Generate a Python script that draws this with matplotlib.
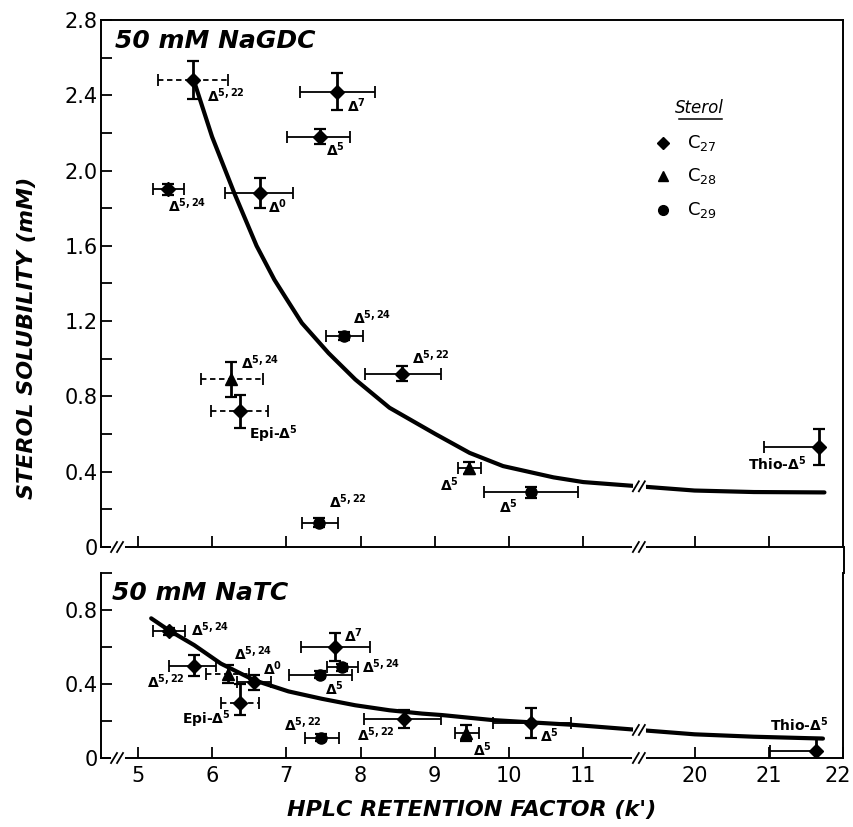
import numpy as np
import matplotlib
matplotlib.use("Agg")
import matplotlib.pyplot as plt
from matplotlib.lines import Line2D
from matplotlib.transforms import IdentityTransform, ScaledTranslation

plt.rcParams['font.family'] = ['DejaVu Sans']
plt.rcParams['mathtext.default'] = 'regular'

# ---------------- data ----------------
# Top panel: 50 mM NaGDC
top_k      = [5.74, 7.69, 7.45, 5.41, 6.64, 7.78, 8.56, 6.26, 6.37, 7.44, 9.46, 10.30, 21.68]
top_k_lo   = [5.27, 7.19, 7.01, 5.20, 6.18, 7.53, 8.06, 5.85, 5.98, 7.21, 9.31, 9.66, 20.93]
top_k_hi   = [6.22, 8.19, 7.86, 5.62, 7.09, 8.04, 9.08, 6.68, 6.76, 7.70, 9.63, 10.93, 21.68]
top_sol    = [2.48, 2.42, 2.18, 1.90, 1.88, 1.12, 0.92, 0.89, 0.72, 0.13, 0.42, 0.29, 0.53]
top_sol_e  = [0.10, 0.10, 0.04, 0.03, 0.08, 0.02, 0.04, 0.095, 0.09, 0.025, 0.03, 0.03, 0.095]
top_sterol = ['C27', 'C27', 'C27', 'C27', 'C27', 'C29', 'C27', 'C28', 'C27', 'C29', 'C28', 'C29', 'C27']
top_names  = ['Δ$^{5,22}$', 'Δ$^{7}$', 'Δ$^{5}$', 'Δ$^{5,24}$', 'Δ$^{0}$', 'Δ$^{5,24}$',
              'Δ$^{5,22}$', 'Δ$^{5,24}$', 'Epi-Δ$^{5}$', 'Δ$^{5,22}$', 'Δ$^{5}$', 'Δ$^{5}$',
              'Thio-Δ$^{5}$']
top_dashed = [True, False, False, False, False, False, False, True, True, False, False, False, False]

top_curve_k = [5.77, 6.00, 6.30, 6.60, 6.84, 7.00, 7.21, 7.57, 7.93, 8.39, 9.01, 9.47, 9.92,
               10.60, 11.00, 20.00, 20.80, 21.75]
top_curve_s = [2.46, 2.18, 1.88, 1.60, 1.42, 1.32, 1.19, 1.03, 0.89, 0.74, 0.60, 0.50, 0.43,
               0.37, 0.345, 0.300, 0.292, 0.290]

# Bottom panel: 50 mM NaTC
bot_k      = [5.42, 5.76, 6.22, 6.57, 6.37, 7.66, 7.45, 7.75, 7.47, 8.59, 9.42, 10.30, 21.64]
bot_k_lo   = [5.20, 5.42, 5.92, 6.33, 6.12, 7.20, 7.03, 7.55, 7.25, 8.05, 9.27, 9.78, 21.02]
bot_k_hi   = [5.64, 6.06, 6.50, 6.80, 6.63, 8.13, 7.88, 7.97, 7.71, 9.09, 9.59, 10.83, 21.64]
bot_sol    = [0.685, 0.50, 0.455, 0.41, 0.30, 0.60, 0.45, 0.49, 0.11, 0.21, 0.135, 0.19, 0.04]
bot_sol_lo = [0.02, 0.055, 0.05, 0.04, 0.065, 0.075, 0.02, 0.02, 0.02, 0.05, 0.045, 0.08, 0.07]
bot_sol_hi = [0.02, 0.055, 0.05, 0.04, 0.10, 0.075, 0.02, 0.02, 0.02, 0.05, 0.045, 0.08, 0.07]
bot_sterol = ['C27', 'C27', 'C28', 'C27', 'C27', 'C27', 'C29', 'C29', 'C29', 'C27', 'C28', 'C27', 'C27']
bot_names  = ['Δ$^{5,24}$', 'Δ$^{5,22}$', 'Δ$^{5,24}$', 'Δ$^{0}$', 'Epi-Δ$^{5}$', 'Δ$^{7}$',
              'Δ$^{5}$', 'Δ$^{5,24}$', 'Δ$^{5,22}$', 'Δ$^{5,22}$', 'Δ$^{5}$', 'Δ$^{5}$',
              'Thio-Δ$^{5}$']
bot_dashed = [False, False, True, False, True, False, False, False, False, False, False, False, False]

bot_curve_k = [5.18, 5.42, 5.76, 6.12, 6.57, 7.03, 7.48, 7.93, 8.39, 8.83, 9.10, 9.78, 10.83,
               11.00, 20.00, 20.80, 21.73]
bot_curve_s = [0.755, 0.69, 0.61, 0.51, 0.42, 0.36, 0.32, 0.285, 0.258, 0.240, 0.232, 0.205,
               0.180, 0.175, 0.128, 0.115, 0.105]

x_ticks = [5, 6, 7, 8, 9, 10, 11, 20, 21, 22]
top_yticks = [0, 0.4, 0.8, 1.2, 1.6, 2.0, 2.4, 2.8]
bot_yticks = [0, 0.4, 0.8]

# label offsets (points) and alignment -- styling only
top_off = [(10, -11, 'left'), (6.5, -10, 'left'), (4.5, -9.5, 'left'), (0, -11.5, 'left'),
           (6, -10, 'left'), (6, 13, 'left'), (7, 11.5, 'left'), (7, 12, 'left'),
           (6.5, -16.5, 'left'), (7, 15, 'left'), (-7, -12, 'right'), (-9.5, -10, 'right'),
           (-9.5, -12, 'right')]
bot_off = [(16, 1, 'left'), (-7, -12, 'right'), (4, 14.5, 'left'), (6, 9.5, 'left'),
           (-6, -12, 'right'), (6.5, 8, 'left'), (3.5, -10, 'left'), (14.5, 0.5, 'left'),
           (0.5, 9.5, 'right'), (-7, -11.5, 'right'), (5, -12, 'left'), (6.5, -9.5, 'left'),
           (8.5, 19, 'right')]

MARK = {'C27': 'D', 'C28': '^', 'C29': 'o'}
MSIZE = {'C27': 7, 'C28': 8, 'C29': 8}

# ---------------- broken x scale ----------------
G = 1.5   # display width of the 11..20 gap (in units)

def fwd(x):
    x = np.asarray(x, dtype=float)
    return np.where(x <= 11, x, np.where(x >= 20, x - 9 + G, 11 + (x - 11) * G / 9.0))

def inv(u):
    u = np.asarray(u, dtype=float)
    return np.where(u <= 11, u, np.where(u >= 11 + G, u + 9 - G, 11 + (u - 11) * 9.0 / G))

W, H = 854, 827
fig = plt.figure(figsize=(W / 100, H / 100), dpi=100)
L, R = 100.7 / W, 843 / W
ax1 = fig.add_axes([L, 1 - 547 / H, R - L, (547 - 20) / H])
ax2 = fig.add_axes([L, 1 - 758 / H, R - L, (758 - 573) / H])

for ax in (ax1, ax2):
    ax.set_xscale('function', functions=(fwd, inv))
    ax.set_xlim(4.5, 22)
    for s in ax.spines.values():
        s.set_linewidth(1.4)
    ax.tick_params(direction='in', length=8, width=1.3, labelsize=15, pad=3)
    ax.tick_params(which='minor', direction='in', length=8, width=1.3)

ax1.set_ylim(0, 2.8)
ax2.set_ylim(0, 1.0)
ax2.spines['top'].set_visible(False)

ax1.set_xticks(x_ticks[:-1])
ax1.set_xticklabels([])
ax1.xaxis.set_minor_locator(matplotlib.ticker.NullLocator())
ax2.set_xticks(x_ticks)
ax2.set_xticklabels([str(t) for t in x_ticks])
ax2.xaxis.set_minor_locator(matplotlib.ticker.NullLocator())
ax2.tick_params(axis='x', pad=6)
last = ax2.get_xticklabels()[-1]
last.set_transform(last.get_transform() + ScaledTranslation(-4 / 72, 0, fig.dpi_scale_trans))

ax1.set_yticks(top_yticks)
ax1.set_yticklabels(['0' if t == 0 else f'{t:.1f}' for t in top_yticks])
ax1.set_yticks(np.arange(0.2, 2.7, 0.4), minor=True)
ax2.set_yticks(bot_yticks)
ax2.set_yticklabels(['0' if t == 0 else f'{t:.1f}' for t in bot_yticks])
ax2.set_yticks([0.2, 0.6, 1.0], minor=True)
for ax in (ax1, ax2):
    ax.tick_params(axis='y', pad=2)


def draw_panel(ax, k, lo, hi, s, elo, ehi, sterol, names, dashed, offs, ck, cs):
    ax.plot(ck, cs, color='black', lw=3.0, solid_capstyle='round', zorder=2)
    for i in range(len(k)):
        xe = [[k[i] - lo[i]], [hi[i] - k[i]]]
        eb = ax.errorbar([k[i]], [s[i]], xerr=xe, fmt='none', ecolor='black',
                         elinewidth=1.3, capsize=4, capthick=1.3, zorder=3)
        if dashed[i]:
            eb[2][0].set_linestyle((0, (3, 2)))
        ax.errorbar([k[i]], [s[i]], yerr=[[elo[i]], [ehi[i]]], fmt='none', ecolor='black',
                    elinewidth=2.0, capsize=4.5, capthick=1.6, zorder=3)
        ax.plot([k[i]], [s[i]], marker=MARK[sterol[i]], ms=MSIZE[sterol[i]], color='black',
                ls='none', zorder=4)
        dx, dy, ha = offs[i]
        ax.annotate(names[i], (k[i], s[i]), xytext=(dx, dy), textcoords='offset points',
                    ha=ha, va='center', fontsize=10, fontweight='bold', zorder=5)


draw_panel(ax1, top_k, top_k_lo, top_k_hi, top_sol, top_sol_e, top_sol_e, top_sterol,
           top_names, top_dashed, top_off, top_curve_k, top_curve_s)
draw_panel(ax2, bot_k, bot_k_lo, bot_k_hi, bot_sol, bot_sol_lo, bot_sol_hi, bot_sterol,
           bot_names, bot_dashed, bot_off, bot_curve_k, bot_curve_s)

# panel titles
ax1.text(0.019, 0.983, '50 mM NaGDC', transform=ax1.transAxes, ha='left', va='top',
         fontsize=18, fontstyle='italic', fontweight='bold')
ax2.text(0.015, 0.955, '50 mM NaTC', transform=ax2.transAxes, ha='left', va='top',
         fontsize=18, fontstyle='italic', fontweight='bold')

# legend
ax1.text(0.807, 0.833, 'Sterol', transform=ax1.transAxes, ha='center', va='center',
         fontsize=12, fontstyle='italic')
ax1.plot([0.779, 0.837], [0.812, 0.812], transform=ax1.transAxes, color='black', lw=1.1)
for j, (cls, yy) in enumerate(zip(['C27', 'C28', 'C29'], [0.767, 0.704, 0.639])):
    ax1.plot([0.7575], [yy], transform=ax1.transAxes, marker=MARK[cls], ms=MSIZE[cls] - 1,
             color='black', ls='none')
    ax1.text(0.79, yy, 'C$_{' + cls[1:] + '}$', transform=ax1.transAxes, ha='left',
             va='center', fontsize=13)

# axis labels
fig.text(0.032, 0.591, 'STEROL SOLUBILITY (mM)', rotation=90, ha='center', va='center',
         fontsize=16, fontstyle='italic', fontweight='bold')
fig.text(0.552, 0.021, "HPLC RETENTION FACTOR (k')", ha='center', va='center',
         fontsize=16, fontstyle='italic', fontweight='bold')

# right spine connector between panels
fig.add_artist(Line2D([843.5, 843.5], [H - 547, H - 573], transform=IdentityTransform(),
                      color='black', lw=1.4))


def slashes(cx, cy, gap_w=3.5):
    fig.add_artist(Line2D([cx - gap_w, cx + gap_w], [cy, cy], transform=IdentityTransform(),
                          color='white', lw=5, zorder=10))
    for off in (-3, 3):
        fig.add_artist(Line2D([cx + off - 3, cx + off + 3], [cy - 5, cy + 5],
                              transform=IdentityTransform(), color='black', lw=1.3, zorder=11))


for ax, ck, cs in ((ax1, top_curve_k, top_curve_s), (ax2, bot_curve_k, bot_curve_s)):
    for xb in (4.72, 15.5):
        px, py = ax.transData.transform((xb, ax.get_ylim()[0]))
        slashes(px, py)
    yb = np.interp(15.5, ck, cs)
    px, py = ax.transData.transform((15.5, yb))
    slashes(px, py, gap_w=3.0)

fig.savefig('out.png', dpi=100)
